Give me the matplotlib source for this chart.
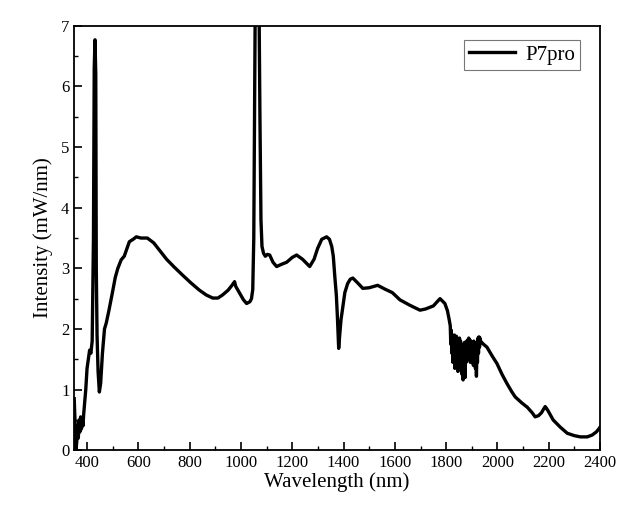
import matplotlib
matplotlib.use('Agg')
import matplotlib.pyplot as plt
from matplotlib.ticker import MultipleLocator

plt.rcParams['font.family'] = ['Liberation Serif', 'DejaVu Serif']

# wavelength (nm)
wl = [350, 352, 355, 357, 360, 363, 366, 369, 372, 375, 378, 381, 384, 387, 390, 395,
      400, 405, 410, 415, 420, 425, 428, 431, 434, 436, 439, 443, 448, 453, 460, 468,
      475, 485, 498, 510, 520, 533, 545, 555, 565, 580, 592, 610, 635, 660, 682, 710,
      740, 772, 805, 838, 865, 890, 910, 928, 950, 965, 975, 980, 995, 1010, 1022, 1035,
      1041, 1046, 1050, 1053, 1056, 1060, 1065, 1070, 1074, 1078, 1082, 1088, 1095, 1103,
      1112, 1125, 1139, 1160, 1178, 1200, 1217, 1240, 1268, 1285, 1299, 1315, 1334, 1345,
      1354, 1360, 1366, 1372, 1376, 1381, 1385, 1390, 1397, 1405, 1416, 1426, 1436, 1455,
      1475, 1500, 1533, 1560, 1590, 1620, 1659, 1698, 1720, 1750, 1776, 1795, 1805, 1812,
      1816, 1818, 1820, 1822, 1824, 1826, 1828, 1830, 1832, 1834, 1836, 1838, 1840, 1842,
      1844, 1846, 1848, 1850, 1852, 1854, 1856, 1858, 1860, 1862, 1864, 1866, 1868, 1870,
      1872, 1874, 1876, 1878, 1880, 1882, 1884, 1886, 1888, 1890, 1892, 1894, 1896, 1898,
      1900, 1902, 1904, 1906, 1908, 1910, 1912, 1914, 1916, 1918, 1920, 1922, 1924, 1926,
      1928, 1930, 1932, 1934, 1945, 1959, 1980,
      1998, 2018, 2037, 2055, 2069, 2095, 2116, 2135, 2147, 2160, 2172, 2180, 2186, 2193,
      2200, 2217, 2245, 2272, 2300, 2323, 2350, 2369, 2385, 2395, 2400]

# intensity (mW/nm)
p7pro = [0.85, 0.6, 0.3, 0.0, 0.15, 0.4, 0.2, 0.5, 0.3, 0.55, 0.35, 0.5, 0.4, 0.6, 0.75, 1.0,
         1.35, 1.5, 1.65, 1.6, 1.8, 3.5, 6.3, 6.77, 6.2, 3.0, 1.9, 1.3, 0.96, 1.1, 1.6, 2.0,
         2.1, 2.3, 2.58, 2.85, 3.0, 3.14, 3.2, 3.32, 3.44, 3.48, 3.52, 3.5, 3.5, 3.42, 3.3, 3.15,
         3.02, 2.89, 2.76, 2.64, 2.56, 2.51, 2.51, 2.56, 2.64, 2.72, 2.78, 2.7, 2.59, 2.48, 2.42, 2.45,
         2.5, 2.65, 3.5, 5.5, 7.6, 7.8, 7.8, 7.6, 5.5, 3.8, 3.36, 3.25, 3.2, 3.23,
         3.22, 3.1, 3.03, 3.07, 3.1, 3.18, 3.22, 3.15, 3.03, 3.15, 3.33, 3.48, 3.52, 3.48,
         3.36, 3.2, 2.86, 2.55, 2.2, 1.68, 1.9, 2.15, 2.36, 2.6, 2.75, 2.82, 2.84, 2.76,
         2.67, 2.68, 2.72, 2.66, 2.6, 2.48, 2.39, 2.31, 2.33, 2.38, 2.5, 2.42, 2.3, 2.15,
         2.05, 1.75, 1.98, 1.6, 1.9, 1.45, 1.85, 1.55, 1.9, 1.35, 1.82, 1.5, 1.88, 1.42,
         1.8, 1.3, 1.78, 1.5, 1.85, 1.4, 1.8, 1.35, 1.75, 1.25, 1.7, 1.16, 1.65, 1.4,
         1.78, 1.2, 1.72, 1.45, 1.8, 1.5, 1.82, 1.55, 1.85, 1.5, 1.82, 1.45, 1.8, 1.55,
         1.78, 1.45, 1.75, 1.4, 1.8, 1.5, 1.76, 1.35, 1.7, 1.22, 1.65, 1.45, 1.85, 1.6,
         1.87, 1.7, 1.85, 1.8, 1.75, 1.7, 1.55,
         1.43, 1.25, 1.1, 0.97, 0.88, 0.78, 0.71, 0.62, 0.55, 0.57, 0.62, 0.68, 0.72, 0.68,
         0.63, 0.5, 0.38, 0.28, 0.24, 0.22, 0.22, 0.25, 0.3, 0.35, 0.38]

fig = plt.figure(figsize=(6.29, 5.07), dpi=100)
ax = fig.add_axes([0.118, 0.112, 0.836, 0.837])

ax.plot(wl, p7pro, color='black', lw=2.4, label='P7pro')

ax.set_xlim(350, 2400)
ax.set_ylim(0, 7)
ax.xaxis.set_major_locator(MultipleLocator(200))
ax.xaxis.set_minor_locator(MultipleLocator(100))
ax.yaxis.set_major_locator(MultipleLocator(1))
ax.yaxis.set_minor_locator(MultipleLocator(0.5))
ax.tick_params(which='both', direction='in', top=False, right=False, labelsize=12)
ax.tick_params(which='major', length=6, width=1.2)
ax.tick_params(which='minor', length=3, width=1.0)
for s in ax.spines.values():
    s.set_linewidth(1.3)

ax.set_xlabel('Wavelength (nm)', fontsize=15, labelpad=1)
ax.set_ylabel('Intensity (mW/nm)', fontsize=15, labelpad=6)

leg = ax.legend(loc='upper right', bbox_to_anchor=(0.962, 0.967), borderaxespad=0,
                fontsize=15, frameon=True, fancybox=False, edgecolor='#555555',
                handlelength=2.2, borderpad=0.25, handletextpad=0.5)
leg.get_frame().set_linewidth(0.8)

fig.savefig('out.png', dpi=100)
